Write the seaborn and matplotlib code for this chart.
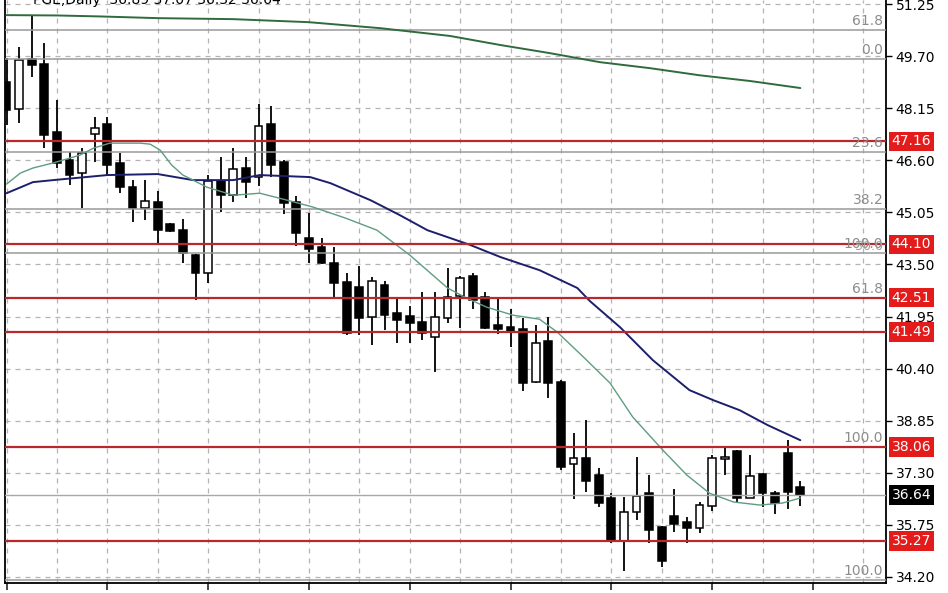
import matplotlib
matplotlib.use("Agg")
import matplotlib.pyplot as plt
import matplotlib.transforms as mtransforms
import numpy as np
import pandas as pd
import seaborn as sns

# ===============================
# DATA
# ===============================
title = "PGE,Daily  36.89 37.07 36.32 36.64"

opens = [48.93, 48.12, 49.62, 49.46, 47.44, 46.60, 46.22, 47.38, 47.68, 46.52,
         45.80, 45.18, 45.35, 44.70, 44.52, 43.78, 43.24, 45.98, 45.56, 46.37,
         46.10, 47.68, 46.54, 45.35, 44.28, 44.02, 43.54, 42.97, 42.82, 41.93,
         42.88, 42.05, 41.96, 41.78, 41.34, 41.90, 42.56, 43.15, 42.53, 41.69,
         41.63, 41.57, 39.99, 41.22, 39.99, 37.56, 37.74, 37.23, 36.55, 35.27,
         36.13, 36.69, 35.68, 36.01, 35.83, 35.65, 36.31, 37.72, 37.95, 36.55,
         37.26, 36.69, 37.89, 36.89]
highs = [49.64, 49.97, 50.92, 50.09, 48.39, 46.84, 46.96, 47.89, 47.88, 46.81,
         46.01, 46.01, 45.68, 44.72, 44.85, 43.80, 46.16, 46.69, 46.96, 46.69,
         48.27, 48.21, 46.60, 45.53, 45.03, 44.30, 44.02, 43.24, 43.45, 43.12,
         43.00, 42.53, 42.26, 42.68, 42.68, 43.39, 43.15, 43.24, 42.68, 42.53,
         42.17, 41.90, 41.69, 41.93, 40.06, 38.48, 38.87, 37.44, 36.69, 36.58,
         37.77, 37.23, 35.71, 36.81, 35.98, 36.43, 37.83, 38.06, 37.98, 37.83,
         37.28, 36.75, 38.27, 37.07]
lows = [47.65, 47.71, 49.08, 46.96, 46.37, 45.86, 45.18, 46.55, 46.17, 45.62,
        44.76, 44.82, 44.10, 44.48, 43.54, 42.44, 42.94, 45.06, 45.35, 45.47,
        45.83, 46.10, 44.99, 44.05, 43.54, 43.50, 42.50, 41.40, 41.40, 41.10,
        41.55, 41.16, 41.16, 41.25, 40.30, 41.75, 41.60, 42.17, 41.57, 41.43,
        41.04, 39.73, 39.97, 39.52, 37.38, 36.52, 36.72, 36.28, 35.21, 34.37,
        35.89, 35.21, 34.49, 35.53, 35.21, 35.50, 36.16, 37.23, 36.43, 36.55,
        36.28, 36.07, 36.22, 36.32]
closes = [48.09, 49.58, 49.45, 47.35, 46.52, 46.16, 46.81, 47.56, 46.46, 45.80,
          45.18, 45.38, 44.52, 44.50, 43.84, 43.24, 45.98, 45.56, 46.34, 45.95,
          47.62, 46.46, 45.32, 44.43, 43.96, 43.54, 42.94, 41.46, 41.90, 43.00,
          41.99, 41.84, 41.75, 41.46, 41.93, 42.53, 43.09, 42.44, 41.60, 41.57,
          41.51, 39.97, 41.16, 39.97, 37.47, 37.74, 37.05, 36.40, 35.30, 36.13,
          36.61, 35.59, 34.67, 35.77, 35.65, 36.34, 37.74, 37.76, 36.55, 37.20,
          36.69, 36.40, 36.72, 36.64]

# moving averages: (candle index, value)
ma_long_idx = [0, 4, 7.5, 12, 18, 24, 29.7, 35.2, 39.2, 43.1, 47.1, 51.1, 55, 59, 63]
ma_long_val = [50.92, 50.91, 50.88, 50.83, 50.80, 50.71, 50.53, 50.30, 50.03,
               49.79, 49.52, 49.34, 49.13, 48.96, 48.75]

ma_mid_idx = [0, 2.1, 3.7, 8, 12, 14.8, 18, 20.1, 24.1, 25.7, 28.9, 31.2, 33.4,
              36.8, 39.2, 42.3, 45.3, 46.3, 48.7, 51.3, 54.2, 56.1, 58.2, 60.4, 63]
ma_mid_val = [45.62, 45.95, 46.01, 46.16, 46.19, 46.01, 46.01, 46.16, 46.10, 45.92,
              45.41, 44.97, 44.52, 44.08, 43.72, 43.33, 42.80, 42.41, 41.63, 40.65,
              39.76, 39.46, 39.16, 38.72, 38.27]

ma_short_idx = [0, 1.1, 2.1, 3.7, 5.8, 6.9, 8.2, 10.6, 11.4, 12.2, 13.1, 14.0, 14.8,
                15.9, 18.0, 20.1, 22.3, 24.3, 26.9, 29.4, 32.0, 35.0, 36.5, 38.1,
                40.2, 42.3, 43.7, 45.8, 47.9, 49.7, 52.1, 54.0, 55.8, 57.7, 59.8,
                61.6, 63]
ma_short_val = [45.89, 46.22, 46.37, 46.52, 46.75, 46.96, 47.11, 47.11, 47.08, 46.90,
                46.46, 46.16, 46.01, 45.80, 45.56, 45.62, 45.41, 45.21, 44.88, 44.52,
                43.78, 42.80, 42.50, 42.23, 41.99, 41.87, 41.49, 40.74, 39.97, 38.96,
                37.97, 37.23, 36.69, 36.43, 36.34, 36.40, 36.55]

red_levels = [47.16, 44.10, 42.51, 41.49, 38.06, 35.27]
fib_levels = [50.47, 49.62, 46.84, 45.15, 43.84, 42.49, 38.06, 34.10]
fib_labels = ["61.8", "0.0", "23.6", "38.2", "100.0", "61.8", "100.0", "100.0"]
last_price = 36.64
yticks = [34.20, 35.75, 37.30, 38.85, 40.40, 41.95, 43.50, 45.05, 46.60, 48.15, 49.70, 51.25]

df = pd.DataFrame({"open": opens, "high": highs, "low": lows, "close": closes})
df["i"] = np.arange(len(df))
df["up"] = df["close"] >= df["open"]

# ===============================
# STYLE
# ===============================
sns.set_style("white")
plt.rcParams["font.family"] = ["DejaVu Sans"]

fig = plt.figure(figsize=(9.48, 5.93), dpi=100)
ax = fig.add_axes([5 / 948, 10 / 593, 881 / 948, 583 / 593])
ax.set_xlim(-0.12, 69.8)
ax.set_ylim(34.02, 51.37)

# grid
for v in yticks:
    ax.axhline(v, color="#b4b4b4", lw=0.9, ls=(0, (4, 4)), zorder=0)
for k in range(0, 70, 4):
    ax.axvline(k, color="#b4b4b4", lw=0.9, ls=(0, (4, 4)), zorder=0)

# horizontal levels
for v in fib_levels:
    ax.axhline(v, color="#9a9a9a", lw=1.1, zorder=3)
ax.axhline(last_price, color="#a8a8a8", lw=1.0, zorder=3)
for v in red_levels:
    ax.axhline(v, color="#b8282c", lw=1.6, zorder=4)

# fib labels
tr = mtransforms.blended_transform_factory(ax.transAxes, ax.transData)
for v, lab in zip(fib_levels, fib_labels):
    ax.annotate(lab, xy=(1, v), xycoords=tr, xytext=(-2, 1.5), textcoords="offset points",
                ha="right", va="bottom", color="#8c8c8c", fontsize=10, zorder=5)
ax.annotate("50.0", xy=(1, fib_levels[4]), xycoords=tr, xytext=(-2, 0), textcoords="offset points",
            ha="right", va="bottom", color="#a0a0a0", fontsize=9, zorder=5)

# candles
ax.vlines(df["i"], df["low"], df["high"], color="black", lw=1.3, zorder=2)
body_bottom = df[["open", "close"]].min(axis=1)
body_h = (df["close"] - df["open"]).abs().clip(lower=0.04)
ax.bar(df["i"], body_h, bottom=body_bottom, width=0.62,
       color=np.where(df["up"], "white", "black"), edgecolor="black", lw=1.1, zorder=2)

# moving averages
sns.lineplot(x=ma_long_idx, y=ma_long_val, ax=ax, color="#2f6b3c", lw=1.4,
             sort=False, estimator=None, zorder=3)
sns.lineplot(x=ma_mid_idx, y=ma_mid_val, ax=ax, color="#1c1f6b", lw=1.4,
             sort=False, estimator=None, zorder=3)
sns.lineplot(x=ma_short_idx, y=ma_short_val, ax=ax, color="#5f9c80", lw=1.0,
             sort=False, estimator=None, zorder=3)

# axes
ax.yaxis.tick_right()
ax.set_yticks(yticks)
ax.set_yticklabels([f"{v:.2f}" for v in yticks])
ax.tick_params(axis="y", length=4, width=1, pad=3, labelsize=10, colors="black", right=True)
ax.set_xticks(range(0, 70, 8))
ax.set_xticklabels([])
ax.tick_params(axis="x", length=5, width=1.2, bottom=True)
ax.set_xlabel("")
ax.set_ylabel("")
for s in ["left", "right", "bottom"]:
    ax.spines[s].set_color("black")
    ax.spines[s].set_linewidth(1.3)
ax.spines["top"].set_visible(False)

# price boxes on the right axis
for v in red_levels:
    ax.annotate(f"{v:.2f}", xy=(1, v), xycoords=tr, xytext=(4, 0), textcoords="offset points",
                ha="left", va="center", color="white", fontsize=10, zorder=10,
                bbox=dict(boxstyle="square,pad=0.2", fc="#e41b1b", ec="none"),
                annotation_clip=False)
ax.annotate(f"{last_price:.2f}", xy=(1, last_price), xycoords=tr, xytext=(4, 0),
            textcoords="offset points", ha="left", va="center", color="white", fontsize=10,
            zorder=10, bbox=dict(boxstyle="square,pad=0.2", fc="black", ec="none"),
            annotation_clip=False)

fig.text(33 / 948, 1.0, title, ha="left", va="center", fontsize=10, color="black")

fig.savefig("out.png", dpi=100, facecolor="white")
